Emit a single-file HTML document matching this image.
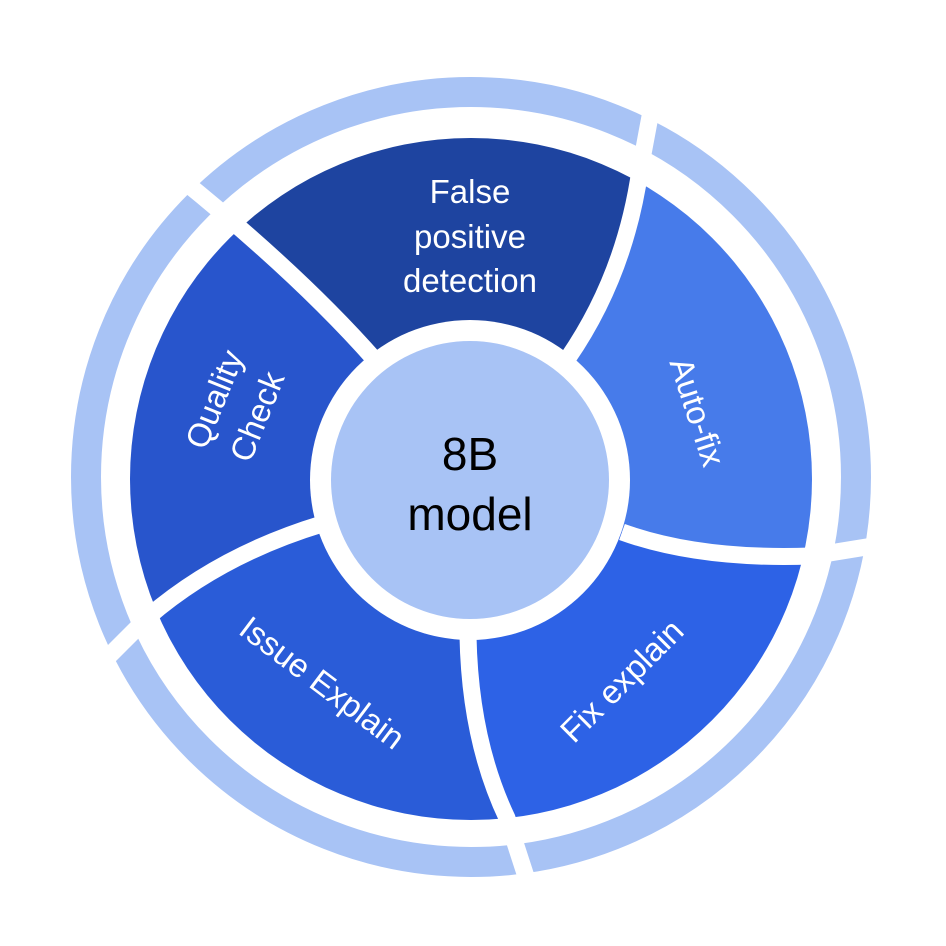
<!DOCTYPE html>
<html><head><style>html,body{margin:0;padding:0;background:#fff;}svg{display:block}</style></head>
<body>
<svg width="946" height="946" viewBox="0 0 946 946" xmlns="http://www.w3.org/2000/svg" font-family="Liberation Sans, sans-serif">
<defs><clipPath id="d"><circle cx="471" cy="479" r="341"/></clipPath></defs>
<circle cx="471" cy="477" r="385" fill="none" stroke="#a8c3f5" stroke-width="30"/>
<g clip-path="url(#d)">
<path d="M471,479 L375,360 Q300,275 180,178 L300,0 L471,-100 L652,0 L652,105 L640,170 Q625,275 568,358 Z" fill="#1e44a0"/>
<path d="M471,479 L568,358 Q625,275 640,170 L652,105 L1000,200 L880,545 L811,556 Q700,560 622,532 Z" fill="#477bea"/>
<path d="M471,479 L622,532 Q700,560 811,556 L880,545 L900,900 L530,890 L507,818 Q470,740 468,636 Z" fill="#2d62e6"/>
<path d="M471,479 L468,636 Q470,740 507,818 L530,890 L0,900 L100,665 L148,617 Q220,555 322,524 Z" fill="#2a5cd8"/>
<path d="M471,479 L322,524 Q220,555 148,617 L100,665 L0,600 L0,100 L180,178 Q300,275 375,360 Z" fill="#2855cc"/>
</g>
<g fill="none" stroke="#fff" stroke-width="17">
<path d="M375,360 Q300,275 180,178"/>
<path d="M568,358 Q625,275 640,170 L654,95"/>
<path d="M622,532 Q700,560 811,556 L885,544"/>
<path d="M468,636 Q470,740 507,818 L532,895"/>
<path d="M322,524 Q220,555 148,617 L95,670"/>
</g>
<circle cx="470" cy="480" r="160" fill="#fff"/>
<circle cx="470" cy="480" r="139" fill="#a8c3f5"/>
<g fill="#fff" font-size="33" text-anchor="middle">
<text x="470" y="203">False</text>
<text x="470" y="248">positive</text>
<text x="470" y="292">detection</text>
<text transform="translate(236,408) rotate(-68)"><tspan x="0" y="-12">Quality</tspan><tspan x="0" y="34">Check</tspan></text>
<text transform="translate(697,412) rotate(72)" x="0" y="11">Auto-fix</text>
<text transform="translate(322,683) rotate(37)" x="0" y="11">Issue Explain</text>
<text transform="translate(622,681) rotate(-45)" x="0" y="11">Fix explain</text>
</g>
<g fill="#000" font-size="46" text-anchor="middle">
<text x="470" y="470">8B</text>
<text x="470" y="530">model</text>
</g>
</svg>
</body></html>
